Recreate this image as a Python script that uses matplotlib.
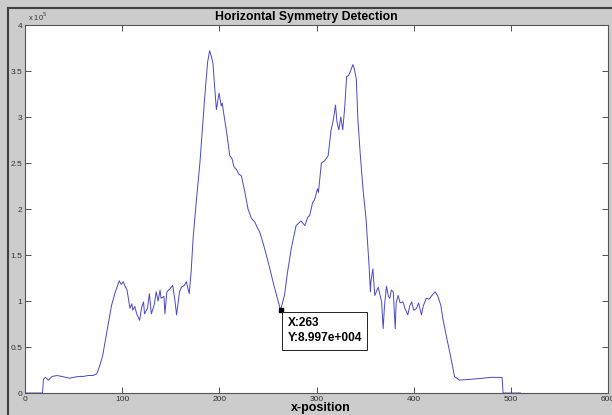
import numpy as np
from matplotlib import pyplot as plt

plt.rc('font', family='Liberation Sans')

# x-position and symmetry score (units of 1e5)
xpos = [0, 18, 19, 21, 24, 28, 33, 38, 42, 46, 50, 55, 60, 65, 70, 74, 77, 80, 84, 89,
        93, 97, 99, 101, 103, 105, 108, 110, 111, 113, 115, 118, 120, 122, 123, 126,
        128, 130, 133, 135, 137, 139, 140, 143, 144, 146, 149, 152, 154, 156, 159,
        161, 164, 166, 169, 171, 173, 176, 180, 185, 188, 190, 192, 193.5, 195, 197,
        199.7, 202, 203, 205.5, 208, 210.7, 213, 215, 217.6, 220, 222.7, 226, 229.5,
        233, 236.4, 239, 241.5, 245, 248.4, 252, 255.2, 258, 260.4, 263, 265, 267,
        270, 274, 279, 284, 288, 291, 293, 296, 298, 301, 302, 305, 308, 312, 315,
        317, 319.6, 321, 323, 325, 327, 329, 331, 333, 335, 337.5, 339, 341, 342.6,
        345, 348, 351, 354, 355.5, 356, 358, 360, 363.5, 365, 367, 368.6, 370, 372,
        374, 375.5, 377, 379, 381, 382, 384, 386, 389, 391, 394, 396, 398, 400, 403,
        405, 408, 410, 413, 416, 418, 422, 425, 428, 430, 434, 438, 442, 447, 460,
        470, 480, 491, 492, 510]
score = [0, 0, 0.15, 0.17, 0.14, 0.18, 0.19, 0.18, 0.17, 0.16, 0.17, 0.18, 0.18, 0.19,
         0.19, 0.21, 0.30, 0.41, 0.65, 0.95, 1.10, 1.22, 1.18, 1.21, 1.16, 1.12, 0.92,
         0.97, 0.90, 0.94, 0.86, 0.79, 0.93, 0.99, 0.86, 0.92, 1.08, 0.86, 0.96, 1.10,
         1.00, 1.12, 1.03, 1.05, 0.86, 1.10, 1.13, 1.17, 1.03, 0.85, 1.10, 1.15, 1.17,
         1.21, 1.08, 1.32, 1.68, 2.05, 2.50, 3.22, 3.60, 3.72, 3.65, 3.58, 3.35, 3.08,
         3.26, 3.12, 3.15, 2.97, 2.80, 2.58, 2.55, 2.46, 2.43, 2.38, 2.36, 2.20, 2.00,
         1.90, 1.86, 1.80, 1.75, 1.63, 1.50, 1.35, 1.21, 1.10, 1.01, 0.90, 0.98, 1.06,
         1.30, 1.57, 1.82, 1.87, 1.82, 1.91, 1.93, 2.07, 2.10, 2.22, 2.18, 2.50, 2.52,
         2.58, 2.86, 2.95, 3.13, 2.95, 2.86, 3.00, 2.86, 3.10, 3.44, 3.45, 3.50, 3.57,
         3.52, 3.41, 2.97, 2.60, 2.20, 1.89, 1.40, 1.10, 1.21, 1.35, 1.06, 1.15, 1.08,
         0.99, 0.70, 0.95, 1.16, 1.05, 1.03, 1.12, 1.10, 0.70, 0.98, 1.06, 0.98, 0.99,
         0.92, 0.85, 0.95, 0.99, 0.90, 0.92, 0.98, 0.85, 0.95, 1.03, 1.02, 1.05, 1.10,
         1.05, 0.95, 0.81, 0.60, 0.40, 0.18, 0.14, 0.15, 0.16, 0.17, 0.17, 0, 0]

tip_x = 263
tip_y = 0.8997

fig = plt.figure(figsize=(6.12, 4.15), dpi=100, facecolor='#cccccc')
ax = fig.add_axes([25 / 612, 22 / 415, 583 / 612, 368 / 415])
ax.plot(xpos, score, color='#4848c8', lw=0.7)
ax.set_xlim(0, 600)
ax.set_ylim(0, 4)
ax.set_xticks(np.arange(0, 601, 100))
ax.set_yticks(np.arange(0, 4.01, 0.5))
ax.set_yticklabels(['0', '0.5', '1', '1.5', '2', '2.5', '3', '3.5', '4'])
ax.tick_params(direction='in', length=4, width=0.6, labelsize=6, colors='#333333',
               top=True, right=True, pad=2)
for s in ax.spines.values():
    s.set_color('#555555')
    s.set_linewidth(0.8)

fig.text(306 / 612, 1 - 17 / 415, 'Horizontal Symmetry Detection', fontsize=8.8,
         fontweight='bold', ha='center', va='center')
fig.text(321 / 612, 1 - 408 / 415, 'x-position', fontsize=9, fontweight='bold',
         ha='center', va='center')
ax.text(0.005, 1.005, r'x 10$^5$', transform=ax.transAxes, fontsize=5.5,
        color='#333333', va='bottom')

# data tip
ax.plot([tip_x], [tip_y], 's', color='black', ms=3.5)
ax.annotate('X:%d\nY:8.997e+004' % tip_x, xy=(tip_x, tip_y), xytext=(5, -5),
            textcoords='offset points', ha='left', va='top', fontsize=8.6,
            fontweight='bold', linespacing=1.35,
            bbox=dict(boxstyle='square,pad=0.45', fc='white', ec='#222222', lw=0.7))

# window frame
fig.add_artist(plt.Line2D([8 / 612, 1], [1 - 8 / 415, 1 - 8 / 415], color='#404040', lw=1.5))
fig.add_artist(plt.Line2D([8 / 612, 8 / 612], [0, 1 - 8 / 415], color='#404040', lw=1.5))

fig.savefig('out.png', dpi=100, facecolor=fig.get_facecolor())
